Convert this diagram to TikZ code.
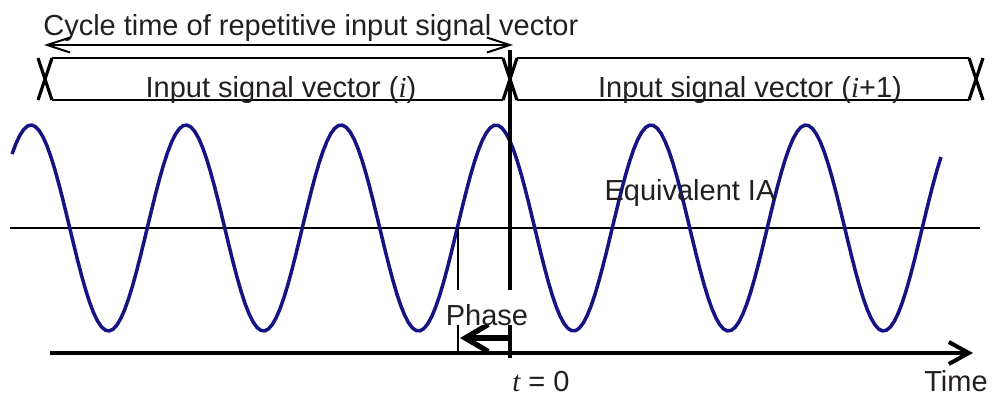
\documentclass[tikz,border=0pt]{standalone}
\usepackage{fontspec}
\setmainfont{Liberation Sans}
\newfontfamily\serifit{Liberation Serif}
\usetikzlibrary{positioning,arrows.meta,calc}
\definecolor{WaveNavy}{RGB}{20,20,130}
\definecolor{TextGray}{RGB}{35,31,32}

\begin{document}
\begin{tikzpicture}[x=0.02cm, y=-0.02cm, font=\fontsize{16.5}{20}\selectfont, every node/.style={text=TextGray, inner sep=0pt}]
\tikzset{
  busline/.style={line width=1.2pt},
  busx/.style={line width=1.8pt},
  refline/.style={line width=1.1pt},
  wave/.style={line width=2pt, WaveNavy, line join=round},
  dimarr/.style={{Straight Barb[length=0.46cm,width=0.3cm]}-{Straight Barb[length=0.46cm,width=0.3cm]}, line width=1.1pt},
  timearr/.style={-{Straight Barb[length=0.4cm,width=0.44cm]}, line width=2.3pt},
  phasearr/.style={-{Straight Barb[length=0.46cm,width=0.54cm]}, line width=3pt}
}
  \useasboundingbox (0,0) rectangle (992,397);
  % vector boundaries
  \coordinate (b0) at (45,79);
  \coordinate (b1) at (510,79);
  \coordinate (b2) at (976,79);
  \foreach \c in {b0,b1,b2}
    \draw[busx] ($(\c)+(-7,-21)$) -- ($(\c)+(7,21)$) ($(\c)+(7,-21)$) -- ($(\c)+(-7,21)$);
  \draw[busline] ($(b0)+(7,-21)$) -- ($(b1)+(-7,-21)$) ($(b0)+(7,21)$) -- ($(b1)+(-7,21)$);
  \draw[busline] ($(b1)+(7,-21)$) -- ($(b2)+(-7,-21)$) ($(b1)+(7,21)$) -- ($(b2)+(-7,21)$);
  \node[anchor=base] (vi) at (281,97) {Input signal vector ({\serifit\itshape i})};
  \node[anchor=base] (vinext) at (750,97) {Input signal vector ({\serifit\itshape i}+1)};
  % cycle time
  \node[anchor=base west] (cycle) at (43,35) {Cycle time of repetitive input signal vector};
  \coordinate (cl) at (44,45);
  \coordinate (cr) at (513,45);
  \draw[dimarr] (cl) -- (cr);
  % equivalent IA and signal
  \coordinate (ial) at (10,228);
  \coordinate (iar) at (980,228);
  \draw[refline] (ial) -- (iar);
  \draw[wave] plot[domain=12:941, samples=240] (\x,{228-103*cos(2.32258*(\x-31))});
  \node[anchor=base] (eqia) at (690,200) {Equivalent IA};
  % time axis
  \coordinate (ax0) at (50,353);
  \coordinate (ax1) at (973,353);
  \draw[timearr] (ax0) -- (ax1);
  \coordinate (ttop) at (510,50);
  \coordinate (tbot) at (510,358);
  \draw[line width=2pt] (ttop) -- (tbot);
  \coordinate (ph) at (458,228);
  \coordinate (phb) at (458,352);
  \draw[refline] (ph) -- (phb);
  \coordinate (pa0) at (511,338);
  \coordinate (pa1) at (460,338);
  \draw[phasearr] (pa0) -- (pa1);
  \node[anchor=base, fill=white, text height=20pt, text depth=0pt] (phase) at (487,325) {Phase};
  \node[anchor=base west] (tzero) at (512,391) {{\serifit\itshape t} = 0};
  \node[anchor=base east] (timelbl) at (988,391) {Time};
\end{tikzpicture}
\end{document}
